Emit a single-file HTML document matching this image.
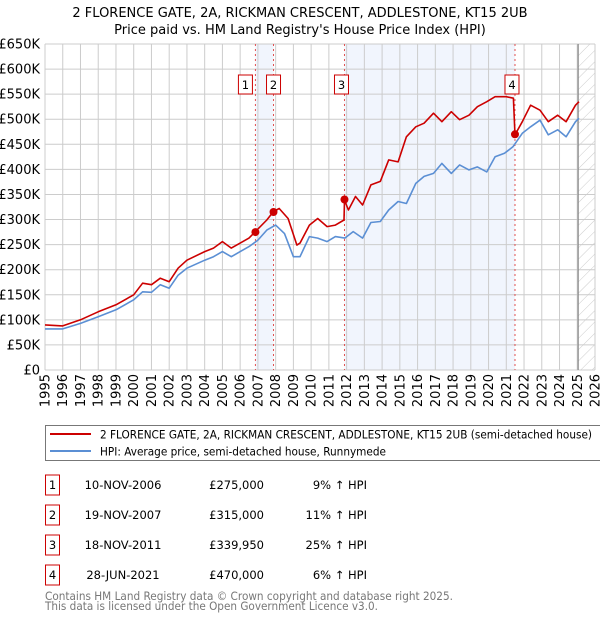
<!DOCTYPE html>
<html><head><meta charset="utf-8"><style>
body{margin:0;background:#fff;font-family:"Liberation Sans","DejaVu Sans",sans-serif;}
svg{display:block}
text{font-family:"DejaVu Sans","Liberation Sans",sans-serif;}
</style></head><body>
<svg id="chart" width="600" height="620" viewBox="0 0 600 620" xmlns="http://www.w3.org/2000/svg">
<text x="300" y="17" text-anchor="middle" font-size="13" fill="#000">2 FLORENCE GATE, 2A, RICKMAN CRESCENT, ADDLESTONE, KT15 2UB</text>
<text x="300" y="34" text-anchor="middle" font-size="13" fill="#000">Price paid vs. HM Land Registry's House Price Index (HPI)</text>
<g id="plot"></g>
<g>
<rect x="45.5" y="425.5" width="556" height="35" fill="#fff" stroke="#777"/>
<line x1="50" y1="434" x2="91" y2="434" stroke="#cc0000" stroke-width="2"/>
<text x="100" y="438.5" font-size="11.5" textLength="492" lengthAdjust="spacingAndGlyphs">2 FLORENCE GATE, 2A, RICKMAN CRESCENT, ADDLESTONE, KT15 2UB (semi-detached house)</text>
<line x1="50" y1="451" x2="91" y2="451" stroke="#5b8fd4" stroke-width="2"/>
<text x="100" y="455.5" font-size="11.5" textLength="286" lengthAdjust="spacingAndGlyphs">HPI: Average price, semi-detached house, Runnymede</text>
</g>
<g id="table" font-size="11.5"></g>
<text x="45" y="600" font-size="11.5" fill="#777" textLength="408" lengthAdjust="spacingAndGlyphs">Contains HM Land Registry data © Crown copyright and database right 2025.</text>
<text x="45" y="610" font-size="11.5" fill="#777" textLength="333" lengthAdjust="spacingAndGlyphs">This data is licensed under the Open Government Licence v3.0.</text>
</svg>
<script>
const hpiYears=[1995,1996,1997,1998,1999,2000,2000.5,2001,2001.5,2002,2002.5,2003,2004,2004.5,2005,2005.5,2006,2006.5,2007,2007.5,2008,2008.5,2009,2009.37,2009.9,2010.37,2010.9,2011.37,2011.9,2012.37,2012.9,2013.37,2013.9,2014.37,2014.9,2015.37,2015.9,2016.37,2016.9,2017.37,2017.9,2018.37,2018.9,2019.37,2019.9,2020.37,2020.9,2021.37,2021.9,2022.37,2022.9,2023.37,2023.9,2024.37,2024.9,2025.1];
const hpiValues=[82,82,93,106,120,140,156,155,170,163,189,203,219,226,236,226,236,246,259,279,289,272,226,226,266,263,256,266,263,276,263,294,296,319,336,332,372,386,392,412,392,409,399,405,395,425,432,445,472,485,498,469,479,465,495,502];
const priceYears=[1995,1996,1997,1998,1999,2000,2000.5,2001,2001.5,2002,2002.5,2003,2004,2004.5,2005,2005.5,2006,2006.5,2006.86,2007.5,2007.88,2008.2,2008.7,2009.2,2009.37,2009.9,2010.37,2010.9,2011.37,2011.85,2011.88,2012.1,2012.5,2012.9,2013.37,2013.9,2014.37,2014.9,2015.37,2015.9,2016.37,2016.9,2017.37,2017.9,2018.37,2018.9,2019.37,2019.9,2020.37,2021.0,2021.4,2021.49,2021.9,2022.37,2022.9,2023.37,2023.9,2024.37,2024.9,2025.1];
const priceValues=[90,88,100,116,130,150,173,170,183,176,203,219,236,243,256,243,253,263,276,299,316,322,302,249,253,289,302,286,289,299,339,319,346,329,369,376,419,415,465,485,492,512,495,515,499,508,525,535,545,545,542,469,495,528,518,495,508,495,528,535];
const saleLabels=["1","2","3","4"];
const saleYears=[2006.86,2007.88,2011.88,2021.49];
const saleValues=[275,315,339.95,470];
const saleDates=["10-NOV-2006","19-NOV-2007","18-NOV-2011","28-JUN-2021"];
const salePrices=["£275,000","£315,000","£339,950","£470,000"];
const saleHpi=["9% ↑ HPI","11% ↑ HPI","25% ↑ HPI","6% ↑ HPI"];
const yTicks=[0,50,100,150,200,250,300,350,400,450,500,550,600,650];
const yTickLabels=["£0","£50K","£100K","£150K","£200K","£250K","£300K","£350K","£400K","£450K","£500K","£550K","£600K","£650K"];
const xTicks=[1995,1996,1997,1998,1999,2000,2001,2002,2003,2004,2005,2006,2007,2008,2009,2010,2011,2012,2013,2014,2015,2016,2017,2018,2019,2020,2021,2022,2023,2024,2025,2026];

const NS="http://www.w3.org/2000/svg";
const L=45,R=595,T=44,B=370,X0=1995,X1=2026,YMAX=650;
const xs=v=>L+(v-X0)/(X1-X0)*(R-L);
const ys=v=>B-v/YMAX*(B-T);
const plot=document.getElementById('plot');
function mk(tag,attrs,parent){const e=document.createElementNS(NS,tag);for(const k in attrs)e.setAttribute(k,attrs[k]);(parent||plot).appendChild(e);return e;}

for(let i=0;i<saleYears.length;i+=2){
  const r=mk('rect',{x:xs(saleYears[i]),y:T,width:xs(saleYears[i+1])-xs(saleYears[i]),height:B-T,fill:'#eef3fc',opacity:0.8});
  
  
}
const defs=mk('defs',{});
const pat=mk('pattern',{id:'hatch',width:8,height:8,patternUnits:'userSpaceOnUse',patternTransform:'rotate(45)'},defs);
mk('line',{x1:0,y1:0,x2:0,y2:8,stroke:'#ccc','stroke-width':1},pat);
const hr=mk('rect',{x:xs(2025.05),y:T,width:R-xs(2025.05),height:B-T,fill:'url(#hatch)'});



yTicks.forEach((v,i)=>{
  const g=mk('line',{x1:L,x2:R,y1:ys(v),y2:ys(v),stroke:'#ccc','stroke-width':1});
  
  
  const t=mk('text',{x:L-5,y:ys(v)+4.5,'text-anchor':'end','font-size':13});
  t.textContent=yTickLabels[i];
  
  
});
xTicks.forEach(v=>{
  const g=mk('line',{x1:xs(v),x2:xs(v),y1:T,y2:B,stroke:'#ccc','stroke-width':1});
  
  
  const tx=xs(v)+4.5, ty=374;
  const t=mk('text',{x:tx,y:ty,'text-anchor':'end','font-size':13,transform:'rotate(-90 '+tx+' '+ty+')'});
  t.textContent=v;
  
  
});
const vl=mk('line',{x1:xs(2025.05),x2:xs(2025.05),y1:T,y2:B,stroke:'#888','stroke-width':1.2});



saleYears.forEach((v,i)=>{
  const l=mk('line',{x1:xs(v),x2:xs(v),y1:T,y2:B,stroke:'#e05050','stroke-width':1,'stroke-dasharray':'2,3'});
  
  
  const x=(i===0)?xs(v)-17:(i===1?xs(v)-7:xs(v)-10);
  const b=mk('rect',{x:x,y:75,width:14,height:19,fill:'#fff',stroke:'#cc0000'});
  
  
  const t=mk('text',{x:x+7,y:89,'text-anchor':'middle','font-size':11.5});
  t.textContent=saleLabels[i];
  
  
});

function path(xv,yv,color,name){
  const d=xv.map((x,i)=>(i?'L':'M')+xs(x).toFixed(1)+','+ys(yv[i]).toFixed(1)).join('');
  const p=mk('path',{d:d,fill:'none',stroke:color,'stroke-width':1.6,'stroke-linejoin':'round'});
  
  
}
path(hpiYears,hpiValues,'#5b8fd4','hpi-line');
path(priceYears,priceValues,'#cc0000','price-paid-line');
saleYears.forEach((v,i)=>{
  const c=mk('circle',{cx:xs(v),cy:ys(saleValues[i]),r:4,fill:'#cc0000'});
  
  
});

const tb=document.getElementById('table');
saleLabels.forEach((s,i)=>{
  const y=485+i*30;
  const b=mk('rect',{x:45.5,y:y-10,width:14,height:20,fill:'#fff',stroke:'#cc0000'},tb);
  
  
  const cells=[[52.5,s,'middle'],[123,saleDates[i],'middle'],[264,salePrices[i],'end'],[367,saleHpi[i],'end']];
  cells.forEach(c=>{
    const t=mk('text',{x:c[0],y:y+4,'text-anchor':c[2]},tb);
    t.textContent=c[1];
    
    
  });
});
</script>
</body></html>
